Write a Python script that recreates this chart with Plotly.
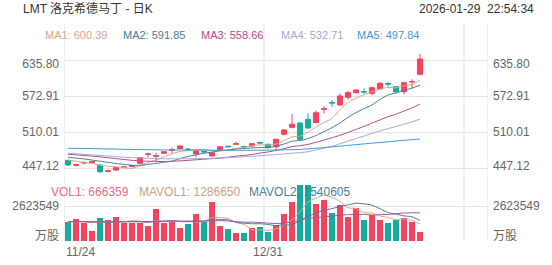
import plotly.graph_objects as go

# ---------------- data ----------------
dates = ["11/24", "12/31"]
n_slots = 53  # category slots on the x axis (45 with data)

opens = [460.24, 451.85, 455.87, 456.39, 452.38, 441.37, 443.64, 448.01, 449.76, 455.35,
         470.72, 467.57, 472.81, 478.05, 480.85, 480.33, 471.59, 475.96, 468.10, 478.58,
         485.22, 488.54, 484.69, 485.57, 491.68, 488.54, 484.34, 506.01, 518.23, 525.75,
         532.21, 526.62, 549.68, 561.56, 557.19, 570.64, 578.68, 580.77, 577.63, 585.14,
         594.75, 589.16, 580.42, 597.37, 610.82]
highs = [461.98, 454.12, 458.49, 459.36, 453.25, 444.51, 448.88, 450.63, 452.38, 466.35,
         473.86, 473.86, 476.83, 482.60, 486.44, 482.07, 477.71, 477.71, 475.09, 485.57,
         486.44, 493.08, 486.44, 490.81, 493.43, 489.93, 498.67, 515.26, 541.47, 527.49,
         542.69, 547.23, 555.44, 565.92, 577.63, 581.65, 585.14, 586.36, 589.51, 597.37,
         597.89, 590.38, 597.89, 602.08, 646.28]
lows = [450.63, 449.76, 453.25, 455.00, 438.40, 439.27, 441.89, 446.26, 448.01, 453.25,
        465.83, 458.00, 471.59, 472.81, 480.33, 477.71, 465.83, 473.34, 466.35, 476.83,
        482.95, 487.31, 482.07, 484.34, 489.06, 481.20, 476.83, 503.91, 516.14, 494.30,
        515.26, 524.87, 542.69, 554.22, 555.44, 565.92, 577.28, 576.41, 574.66, 583.39,
        589.16, 577.63, 575.88, 586.36, 608.72]
closes = [452.38, 452.73, 456.74, 458.49, 440.67, 442.24, 448.01, 448.88, 451.50, 465.13,
          471.59, 468.45, 475.61, 478.93, 485.57, 479.45, 476.83, 475.09, 473.86, 484.34,
          484.34, 489.41, 483.82, 489.58, 490.81, 482.60, 497.27, 513.52, 523.47, 497.27,
          517.01, 543.74, 550.55, 560.68, 572.91, 578.68, 583.39, 579.90, 587.41, 595.10,
          593.87, 580.42, 596.15, 598.24, 637.55]

ma1 = [461.0, 459.0, 457.0, 455.0, 452.2, 450.2, 449.2, 447.7, 446.3, 451.2,
       457.0, 461.1, 466.5, 471.9, 476.0, 477.6, 479.3, 479.2, 478.2, 477.9,
       478.9, 481.4, 483.2, 486.3, 487.6, 487.2, 488.8, 494.8, 501.5, 502.8,
       509.7, 519.0, 526.4, 533.9, 549.0, 561.3, 569.2, 575.1, 580.5, 584.9,
       587.9, 587.3, 590.6, 592.8, 600.4]
ma2 = [466.0, 464.5, 463.0, 461.0, 459.0, 457.0, 455.0, 453.5, 452.0, 451.7,
       453.6, 455.2, 457.1, 459.1, 463.6, 467.3, 470.2, 472.8, 475.1, 477.0,
       478.3, 480.3, 481.2, 482.2, 482.8, 483.1, 485.1, 489.0, 493.9, 495.2,
       498.5, 503.9, 510.6, 517.7, 525.9, 535.5, 544.1, 550.8, 557.2, 566.9,
       574.6, 578.3, 582.9, 586.6, 591.9]
ma3 = [471.0, 470.0, 469.0, 468.0, 466.5, 465.0, 463.5, 462.0, 460.5, 459.5,
       459.0, 458.5, 458.5, 459.0, 459.5, 460.5, 461.5, 462.5, 463.5, 464.3,
       465.9, 467.8, 469.1, 470.7, 473.2, 475.2, 477.7, 480.9, 484.5, 486.1,
       488.4, 492.1, 495.9, 500.0, 504.3, 509.3, 514.6, 519.9, 525.5, 531.1,
       536.6, 541.1, 546.7, 552.2, 558.7]
ma4 = [472.8, 472.0, 471.0, 470.0, 469.0, 468.0, 467.0, 466.0, 465.2, 464.5,
       464.0, 463.6, 463.3, 463.2, 463.2, 463.3, 463.5, 463.8, 464.2, 464.7,
       465.3, 466.0, 466.8, 467.7, 468.6, 469.5, 470.5, 471.8, 473.0, 474.0,
       475.6, 478.6, 481.7, 485.1, 489.5, 494.1, 498.6, 503.0, 507.5, 511.8,
       515.9, 519.6, 523.7, 527.6, 532.7]
ma5 = [481.6, 481.4, 481.2, 481.0, 480.7, 480.4, 480.1, 479.8, 479.5, 479.3,
       479.1, 478.9, 478.7, 478.6, 478.5, 478.4, 478.3, 478.2, 478.1, 478.0,
       478.0, 478.0, 478.0, 478.1, 478.2, 478.3, 478.5, 478.8, 479.2, 479.6,
       480.5, 481.6, 482.8, 484.0, 485.3, 486.6, 487.9, 489.2, 490.5, 491.8,
       493.0, 494.2, 495.4, 496.6, 497.8]

volumes = [1447000, 1649000, 1372000, 787000, 1702000, 1574000, 1784000, 1327000, 1349000, 1364000,
           1147000, 2384000, 1327000, 1447000, 1012000, 1274000, 2061000, 1424000, 2901000, 1147000,
           885000, 600000, 637000, 974000, 1049000, 697000, 1199000, 2061000, 2901000, 4198000,
           4235000, 2751000, 3073000, 2099000, 2721000, 1821000, 2451000, 1574000, 1949000, 1574000,
           1327000, 1574000, 1747000, 1402000, 666359]
mavol1 = [1420000, 1450000, 1430000, 1380000, 1391000, 1417000, 1444000, 1435000, 1547000, 1480000,
          1394000, 1514000, 1514000, 1534000, 1463000, 1489000, 1424000, 1444000, 1734000, 1761000,
          1684000, 1391000, 1234000, 849000, 829000, 791000, 911000, 1196000, 1581000, 2211000,
          2919000, 3229000, 3432000, 3271000, 2976000, 2493000, 2433000, 2133000, 2103000, 1874000,
          1775000, 1600000, 1634000, 1525000, 1286650]
mavol2 = [1450000, 1460000, 1450000, 1430000, 1420000, 1420000, 1430000, 1440000, 1440000, 1436000,
          1406000, 1479000, 1475000, 1541000, 1472000, 1442000, 1469000, 1479000, 1634000, 1612000,
          1586000, 1408000, 1339000, 1292000, 1295000, 1238000, 1151000, 1215000, 1215000, 1520000,
          1855000, 2070000, 2314000, 2426000, 2594000, 2706000, 2831000, 2782000, 2687000, 2425000,
          2134000, 2016000, 1884000, 1814000, 1540605]
mavol3 = [1460000, 1455000, 1450000, 1445000, 1440000, 1440000, 1445000, 1450000, 1455000, 1460000,
          1465000, 1470000, 1475000, 1480000, 1485000, 1490000, 1495000, 1500000, 1510000, 1524000,
          1496000, 1443000, 1407000, 1416000, 1383000, 1340000, 1310000, 1347000, 1425000, 1566000,
          1721000, 1739000, 1826000, 1859000, 1944000, 1972000, 1991000, 1999000, 1951000, 1972000,
          1995000, 2043000, 2099000, 2120000, 2101000]

# grid levels and their printed labels
price_grid = [447.12, 510.01, 572.91, 635.80]
price_tick_text = ["447.12", "510.01", "572.91", "635.80"]
vol_grid = [0, 2623549]
vol_tick_text = ["万股", "2623549"]

title_text = "LMT 洛克希德马丁 - 日K"
time_text = "2026-01-29\u00a0\u00a022:54:34"
ma_labels = ["MA1: 600.39", "MA2: 591.85", "MA3: 558.66", "MA4: 532.71", "MA5: 497.84"]
vol_labels = ["VOL1: 666359", "MAVOL1: 1286650", "MAVOL2: 1540605"]

# ---------------- styles ----------------
UP = "#f2435f"
DOWN = "#17ab9b"
MA_COLORS = ["#d6aa8c", "#4a7e9b", "#b94a86", "#a5a8db", "#3f9ad6"]
VOL_LABEL_COLORS = ["#ec7080", "#c9a385", "#4a7e9b"]
MAVOL_COLORS = ["#d6aa8c", "#4a7e9b", "#b050a0"]
GRID = "#e3e3e3"
FONT = "Arial, 'Liberation Sans', 'Noto Sans CJK SC', sans-serif"

W, H = 552, 265
ML, MR, MT, MB = 64, 64, 24, 24
plot_h = H - MT - MB
plot_w = W - ML - MR


def py(px):
    return (H - MB - px) / plot_h


def pxx(px):
    return (px - ML) / plot_w


price_range = [426.16, 698.69]
vol_range = [0, 4347593]
up_top_px, up_bot_px = MT, 180
vol_top_px, vol_bot_px = 183, H - MB
price_per_px = (price_range[1] - price_range[0]) / (up_bot_px - up_top_px)
vol_per_px = (vol_range[1] - vol_range[0]) / (vol_bot_px - vol_top_px)

# label placement: the outermost labels are pulled inward (as in the source chart)
price_label_shift_px = [-2.7, 0, 0, 3.3]       # + = drawn lower on screen
vol_label_shift_px = [-5, 0]
price_label_pos = [v - s * price_per_px for v, s in zip(price_grid, price_label_shift_px)]
vol_label_pos = [v - s * vol_per_px for v, s in zip(vol_grid, vol_label_shift_px)]

idx = list(range(len(closes)))
vol_colors = [UP if c >= o else DOWN for o, c in zip(opens, closes)]

fig = go.Figure()
fig.add_trace(go.Candlestick(
    x=idx, open=opens, high=highs, low=lows, close=closes,
    increasing=dict(line=dict(color=UP, width=1), fillcolor=UP),
    decreasing=dict(line=dict(color=DOWN, width=1), fillcolor=DOWN),
    whiskerwidth=0, xaxis="x", yaxis="y", showlegend=False, hoverinfo="skip"))
for vals, col in zip([ma1, ma2, ma3, ma4, ma5], MA_COLORS):
    fig.add_trace(go.Scatter(x=idx, y=vals, mode="lines",
                             line=dict(color=col, width=1, shape="spline", smoothing=0.6),
                             xaxis="x", yaxis="y", showlegend=False, hoverinfo="skip"))
for ya in ["y3", "y5"]:
    fig.add_trace(go.Scatter(x=[idx[0]], y=[closes[0]], mode="markers", marker=dict(opacity=0),
                             xaxis="x", yaxis=ya, showlegend=False, hoverinfo="skip"))

fig.add_trace(go.Bar(x=idx, y=volumes, marker=dict(color=vol_colors, line=dict(width=0)), width=0.68,
                     xaxis="x2", yaxis="y2", showlegend=False, hoverinfo="skip"))
for vals, col in zip([mavol1, mavol2, mavol3], MAVOL_COLORS):
    fig.add_trace(go.Scatter(x=idx, y=vals, mode="lines",
                             line=dict(color=col, width=1, shape="spline", smoothing=0.6),
                             xaxis="x2", yaxis="y2", showlegend=False, hoverinfo="skip"))
for ya in ["y4", "y6"]:
    fig.add_trace(go.Scatter(x=[idx[0]], y=[volumes[0]], mode="markers", marker=dict(opacity=0),
                             xaxis="x2", yaxis=ya, showlegend=False, hoverinfo="skip"))

up_dom = [py(up_bot_px), 1]
vol_dom = [0, py(vol_top_px)]
tickfont = dict(family=FONT, size=12, color="#666666")

xcommon = dict(range=[-0.5, n_slots - 0.5], showticklabels=False, showgrid=False,
               zeroline=False, showline=False, ticks="", fixedrange=True)


def label_axis(overlay, anchor, side, rng, vals, text):
    return dict(overlaying=overlay, anchor=anchor, side=side, range=rng, tickvals=vals,
                ticktext=text, showgrid=False, zeroline=False, showline=False, ticks="",
                tickfont=tickfont, ticklabelstandoff=4)


fig.update_layout(
    width=W, height=H, margin=dict(l=ML, r=MR, t=MT, b=MB),
    paper_bgcolor="white", plot_bgcolor="white",
    font=dict(family=FONT, size=12, color="#333333"),
    boxgap=0.36, boxgroupgap=0,
    xaxis=dict(domain=[0, 1], anchor="y", rangeslider=dict(visible=False), **xcommon),
    xaxis2=dict(domain=[0, 1], anchor="y2", matches="x", **xcommon),
    yaxis=dict(domain=up_dom, range=price_range, tickvals=price_grid, showticklabels=False,
               showgrid=True, gridcolor=GRID, gridwidth=1, zeroline=False, showline=False, ticks=""),
    yaxis3=label_axis("y", "x", "right", price_range, price_label_pos, price_tick_text),
    yaxis5=label_axis("y", "x", "left", price_range, price_label_pos, price_tick_text),
    yaxis2=dict(domain=vol_dom, anchor="x2", range=vol_range, tickvals=vol_grid, showticklabels=False,
                showgrid=True, gridcolor=GRID, gridwidth=1, zeroline=False, showline=False, ticks=""),
    yaxis4=label_axis("y2", "x2", "right", vol_range, vol_label_pos, vol_tick_text),
    yaxis6=label_axis("y2", "x2", "left", vol_range, vol_label_pos, vol_tick_text),
    bargap=0,
)

# vertical grid lines at category boundaries and the right border
for xv in [-0.5, 24.5, 49.5, n_slots - 0.5]:
    fig.add_shape(type="line", xref="x", yref="paper", x0=xv, x1=xv, y0=0, y1=1,
                  line=dict(color=GRID, width=1), layer="below")

ann = []
ann.append(dict(text=title_text, xref="paper", yref="paper", x=pxx(21), y=py(9), xanchor="left",
                yanchor="middle", showarrow=False, font=dict(family=FONT, size=12, color="#333333")))
ann.append(dict(text=time_text, xref="paper", yref="paper", x=pxx(536), y=py(9), xanchor="right",
                yanchor="middle", showarrow=False, font=dict(family=FONT, size=12, color="#333333")))
for lab, col, xp in zip(ma_labels, MA_COLORS, [43, 121, 199, 279, 355]):
    ann.append(dict(text=lab, xref="paper", yref="paper", x=pxx(xp), y=py(35), xanchor="left",
                    yanchor="middle", showarrow=False, font=dict(family=FONT, size=11, color=col)))
for lab, col, xp in zip(vol_labels, VOL_LABEL_COLORS, [49, 137, 247]):
    ann.append(dict(text=lab, xref="paper", yref="paper", x=pxx(xp), y=py(192), xanchor="left",
                    yanchor="middle", showarrow=False, font=dict(family=FONT, size=12, color=col)))
ann.append(dict(text=dates[0], xref="x", yref="paper", x=-0.5, y=py(252), xanchor="left",
                yanchor="middle", showarrow=False, font=dict(family=FONT, size=12, color="#666666")))
ann.append(dict(text=dates[1], xref="x", yref="paper", x=25, y=py(252), xanchor="center",
                yanchor="middle", showarrow=False, font=dict(family=FONT, size=12, color="#666666")))
fig.update_layout(annotations=ann)

fig.write_html("out.html")
